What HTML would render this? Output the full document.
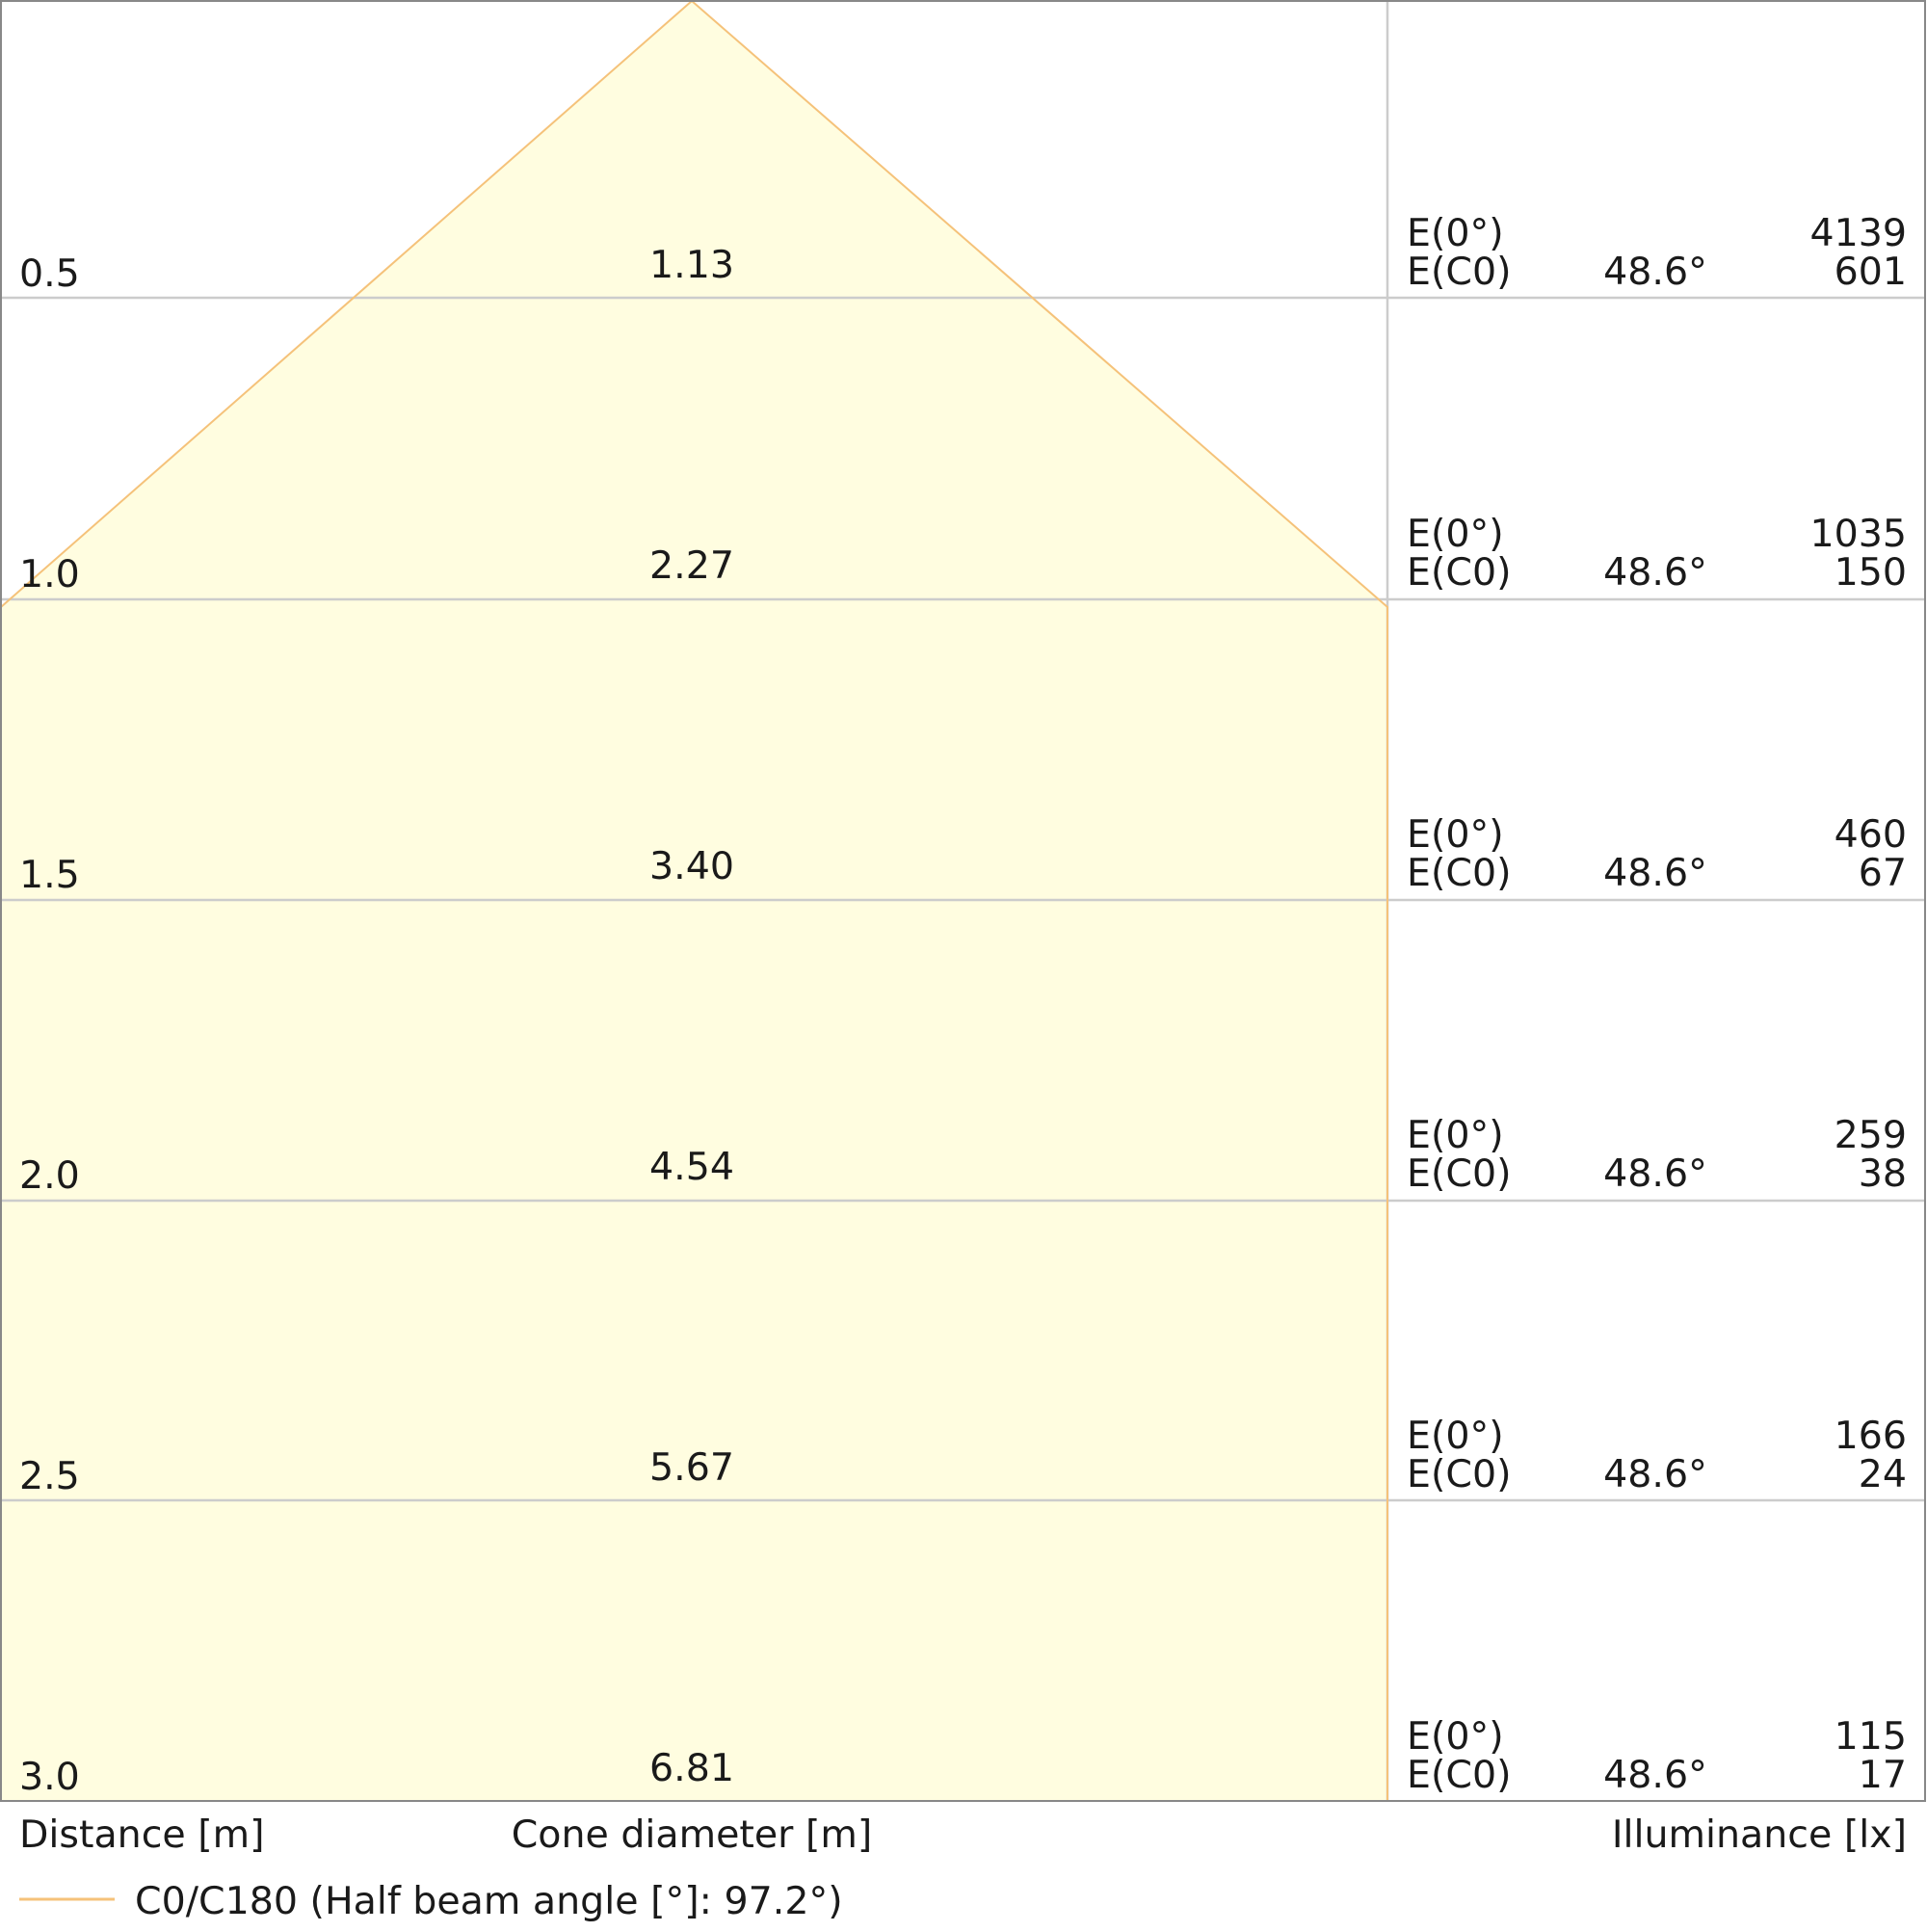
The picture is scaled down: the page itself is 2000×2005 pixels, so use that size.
<!DOCTYPE html>
<html><head><meta charset="utf-8"><style>
html,body{margin:0;padding:0;background:#fff;}
svg text{font-family:"DejaVu Sans","Liberation Sans",sans-serif;font-size:39.5px;fill:#1a1a1a;}
</style></head><body>
<svg width="2000" height="2000" viewBox="0 0 2000 2000" xmlns="http://www.w3.org/2000/svg">
<rect x="0" y="0" width="2000" height="2000" fill="#fff"/>
<polygon points="1,630 718,1 1440,630 1440,1869 1,1869" fill="#fffde0" stroke="none"/>
<g stroke="#cccccc" stroke-width="2.5">
<line x1="1" y1="309" x2="1998" y2="309"/>
<line x1="1" y1="622" x2="1998" y2="622"/>
<line x1="1" y1="934" x2="1998" y2="934"/>
<line x1="1" y1="1246" x2="1998" y2="1246"/>
<line x1="1" y1="1557" x2="1998" y2="1557"/>
<line x1="1440" y1="1" x2="1440" y2="1869"/>
</g>
<polyline points="1,630 718,1 1440,630 1440,1869" fill="none" stroke="#f5c27a" stroke-width="2"/>
<rect x="1" y="1" width="1997" height="1868" fill="none" stroke="#888" stroke-width="2"/>
<g>
<text x="20" y="297">0.5</text><text x="718" y="288" text-anchor="middle">1.13</text>
<text x="1460" y="255">E(0°)</text><text x="1460" y="295">E(C0)</text><text x="1718" y="295" text-anchor="middle">48.6°</text><text x="1979" y="255" text-anchor="end">4139</text><text x="1979" y="295" text-anchor="end">601</text>

<text x="20" y="609">1.0</text><text x="718" y="600" text-anchor="middle">2.27</text>
<text x="1460" y="567">E(0°)</text><text x="1460" y="607">E(C0)</text><text x="1718" y="607" text-anchor="middle">48.6°</text><text x="1979" y="567" text-anchor="end">1035</text><text x="1979" y="607" text-anchor="end">150</text>

<text x="20" y="921">1.5</text><text x="718" y="912" text-anchor="middle">3.40</text>
<text x="1460" y="879">E(0°)</text><text x="1460" y="919">E(C0)</text><text x="1718" y="919" text-anchor="middle">48.6°</text><text x="1979" y="879" text-anchor="end">460</text><text x="1979" y="919" text-anchor="end">67</text>

<text x="20" y="1233">2.0</text><text x="718" y="1224" text-anchor="middle">4.54</text>
<text x="1460" y="1191">E(0°)</text><text x="1460" y="1231">E(C0)</text><text x="1718" y="1231" text-anchor="middle">48.6°</text><text x="1979" y="1191" text-anchor="end">259</text><text x="1979" y="1231" text-anchor="end">38</text>

<text x="20" y="1545">2.5</text><text x="718" y="1536" text-anchor="middle">5.67</text>
<text x="1460" y="1503">E(0°)</text><text x="1460" y="1543">E(C0)</text><text x="1718" y="1543" text-anchor="middle">48.6°</text><text x="1979" y="1503" text-anchor="end">166</text><text x="1979" y="1543" text-anchor="end">24</text>

<text x="20" y="1857">3.0</text><text x="718" y="1848" text-anchor="middle">6.81</text>
<text x="1460" y="1815">E(0°)</text><text x="1460" y="1855">E(C0)</text><text x="1718" y="1855" text-anchor="middle">48.6°</text><text x="1979" y="1815" text-anchor="end">115</text><text x="1979" y="1855" text-anchor="end">17</text>

<text x="20" y="1917">Distance [m]</text>
<text x="718" y="1917" text-anchor="middle">Cone diameter [m]</text>
<text x="1979" y="1917" text-anchor="end">Illuminance [lx]</text>
<line x1="20" y1="1971" x2="119" y2="1971" stroke="#f5c27a" stroke-width="3"/>
<text x="140" y="1986">C0/C180 (Half beam angle [°]: 97.2°)</text>
</g>
</svg>
</body></html>
